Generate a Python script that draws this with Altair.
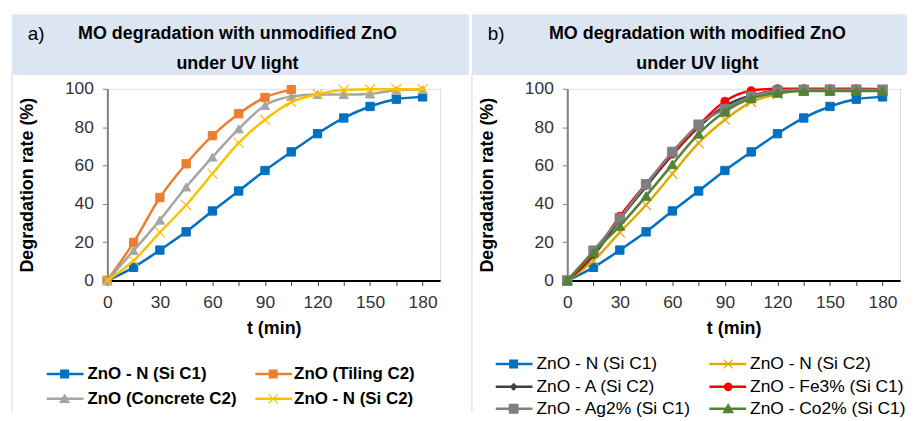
import altair as alt
import pandas as pd

# ---------------- data ----------------
t_min = [0, 15, 30, 45, 60, 75, 90, 105, 120, 135, 150, 165, 180]

zno_n_si_c1 = [0, 6.9, 15.9, 25.4, 36.3, 46.7, 57.4, 67.1, 76.6, 84.8, 90.8, 94.6, 95.8]
zno_tiling_c2 = [0, 19.9, 43.3, 60.9, 75.6, 87.0, 95.5, 99.6]
zno_concrete_c2 = [0, 15.6, 31.5, 48.8, 64.4, 79.1, 91.3, 96.0, 97.0, 97.0, 97.3, 99.3, 99.6]
zno_n_si_c2 = [0, 10.4, 25.1, 39.4, 55.7, 71.8, 83.9, 93.1, 97.2, 99.4, 99.8, 99.8, 99.8]
zno_a_si_c2 = [0, 13.0, 32.0, 49.0, 65.5, 80.0, 91.0, 96.5, 99.0, 99.5, 99.5, 99.5, 99.5]
zno_fe3_si_c1 = [0, 14.0, 33.5, 50.5, 66.0, 81.0, 93.5, 99.0, 100, 100, 100, 100, 99.8]
zno_ag2_si_c1 = [0, 15.6, 32.5, 50.2, 67.1, 81.3, 89.5, 96.0, 99.0, 99.5, 99.5, 99.5, 99.5]
zno_co2_si_c1 = [0, 14.7, 28.5, 44.1, 60.6, 76.5, 88.0, 95.0, 97.8, 98.8, 98.8, 98.8, 98.8]

left_names = ["ZnO - N (Si C1)", "ZnO (Tiling C2)", "ZnO (Concrete C2)", "ZnO - N (Si C2)"]
right_names = ["ZnO - N (Si C1)", "ZnO - N (Si C2)", "ZnO - A (Si C2)",
               "ZnO - Fe3% (Si C1)", "ZnO - Ag2% (Si C1)", "ZnO - Co2% (Si C1)"]

left_title = ["MO degradation with unmodified ZnO", "under UV light"]
right_title = ["MO degradation with modified ZnO", "under UV light"]
x_ticks = [0, 15, 30, 45, 60, 75, 90, 105, 120, 135, 150, 165, 180]
y_ticks = [0, 20, 40, 60, 80, 100]

# ---------------- styles ----------------
FONT = "Liberation Sans"
XSHAPE = "M-1,-1L1,1M-1,1L1,-1"
BAND = "#DCE6F2"

left_series = [
    (left_names[0], zno_n_si_c1, "#0070C0", "square", 70),
    (left_names[1], zno_tiling_c2, "#ED7D31", "square", 70),
    (left_names[2], zno_concrete_c2, "#A5A5A5", "triangle-up", 85),
    (left_names[3], zno_n_si_c2, "#FFC000", XSHAPE, 100),
]
right_series = [
    (right_names[0], zno_n_si_c1, "#0070C0", "square", 70),
    (right_names[1], zno_n_si_c2, "#E0AA00", XSHAPE, 100),
    (right_names[2], zno_a_si_c2, "#404040", "diamond", 40),
    (right_names[3], zno_fe3_si_c1, "#FF0000", "circle", 65),
    (right_names[4], zno_ag2_si_c1, "#7F7F7F", "square", 90),
    (right_names[5], zno_co2_si_c1, "#548235", "triangle-up", 100),
]

one = pd.DataFrame({"k": [0]})

x_axis = alt.Axis(
    values=x_ticks, labelExpr="datum.value % 30 == 0 ? datum.label : ''",
    title="t (min)", titleFontSize=18, titleFontWeight="bold", titleColor="black",
    titlePadding=9, labelFontSize=17.5, labelColor="#333333", labelPadding=8,
    labelFlush=False, tickSize=5, tickColor="#404040", domainColor="black",
    domainWidth=2, grid=False, labelFont=FONT, titleFont=FONT,
)
y_axis = alt.Axis(
    values=y_ticks, title="Degradation rate (%)", titleFontSize=18,
    titleFontWeight="bold", titleColor="black", titlePadding=28,
    labelFontSize=17.5, labelColor="#333333", labelPadding=9, labelFlush=False,
    tickSize=5, tickColor="#808080", domainColor="#808080", domainWidth=2,
    grid=False, labelFont=FONT, titleFont=FONT,
)


def panel(series, letter, title, band_x2, legend_rows, legend_cols, legend_bold, legend_fs):
    layers = []
    layers.append(alt.Chart(one).mark_rect(color=BAND).encode(
        x=alt.value(-96), x2=alt.value(band_x2), y=alt.value(-75), y2=alt.value(-14)))
    layers.append(alt.Chart(one).mark_rule(color=BAND, strokeWidth=1.5).encode(
        x=alt.value(-96), y=alt.value(-14), y2=alt.value(325)))
    layers.append(alt.Chart(one).mark_text(
        text=letter, font=FONT, fontSize=19, align="left", baseline="middle", color="black"
    ).encode(x=alt.value(-80), y=alt.value(-55)))
    for i, line in enumerate(title):
        layers.append(alt.Chart(one).mark_text(
            text=line, font=FONT, fontSize=18, fontWeight="bold", align="center",
            baseline="middle", color="black"
        ).encode(x=alt.value(131), y=alt.value(-55 + 30 * i)))

    for name, vals, color, shape, size in series:
        df = pd.DataFrame({"t": t_min[:len(vals)], "v": vals})
        base = alt.Chart(df).encode(
            x=alt.X("t:Q", scale=alt.Scale(domain=[0, 190], nice=False), axis=x_axis),
            y=alt.Y("v:Q", scale=alt.Scale(domain=[0, 100], nice=False), axis=y_axis),
        )
        layers.append(base.mark_line(color=color, strokeWidth=2.5, interpolate="monotone"))
        if shape == XSHAPE:
            layers.append(base.mark_point(shape=shape, size=size, filled=False, stroke=color,
                                          strokeWidth=1.2, opacity=1))
        else:
            layers.append(base.mark_point(shape=shape, size=size, filled=True, fill=color,
                                          stroke=color, strokeWidth=1, opacity=1))

    # legend
    for i, (name, vals, color, shape, size) in enumerate(series):
        ly = legend_rows[i // 2]
        lx0, lx1, lm, ltx = legend_cols[i % 2]
        layers.append(alt.Chart(one).mark_rule(color=color, strokeWidth=2.5).encode(
            x=alt.value(lx0), x2=alt.value(lx1), y=alt.value(ly)))
        if shape == XSHAPE:
            layers.append(alt.Chart(one).mark_point(shape=shape, size=size * 0.8, filled=False,
                                                    stroke=color, strokeWidth=1.2, opacity=1
                                                    ).encode(x=alt.value(lm), y=alt.value(ly)))
        else:
            layers.append(alt.Chart(one).mark_point(shape=shape, size=size * 0.7, filled=True,
                                                    fill=color, stroke=color, opacity=1
                                                    ).encode(x=alt.value(lm), y=alt.value(ly)))
        layers.append(alt.Chart(one).mark_text(
            text=name, font=FONT, fontSize=legend_fs,
            fontWeight="bold" if legend_bold else "normal",
            align="left", baseline="middle", color="black"
        ).encode(x=alt.value(ltx), y=alt.value(ly)))

    return alt.layer(*layers).properties(width=335, height=193)


left = panel(left_series, "a)", left_title, 364, [287, 312],
             [(-61, -24, -43, -20), (149, 186, 167, 188)], True, 17)
right = panel(right_series, "b)", right_title, 342, [277, 300, 322],
              [(-72, -35, -54, -31), (143, 180, 162, 184)], False, 17.5)

chart = alt.hconcat(left, right, spacing=0).properties(
    padding={"left": 2, "top": 4, "right": 0, "bottom": 0}
).configure_view(stroke="black", strokeWidth=2).configure(font=FONT)

chart.save("out.html", embed_options={"renderer": "svg", "actions": False})
